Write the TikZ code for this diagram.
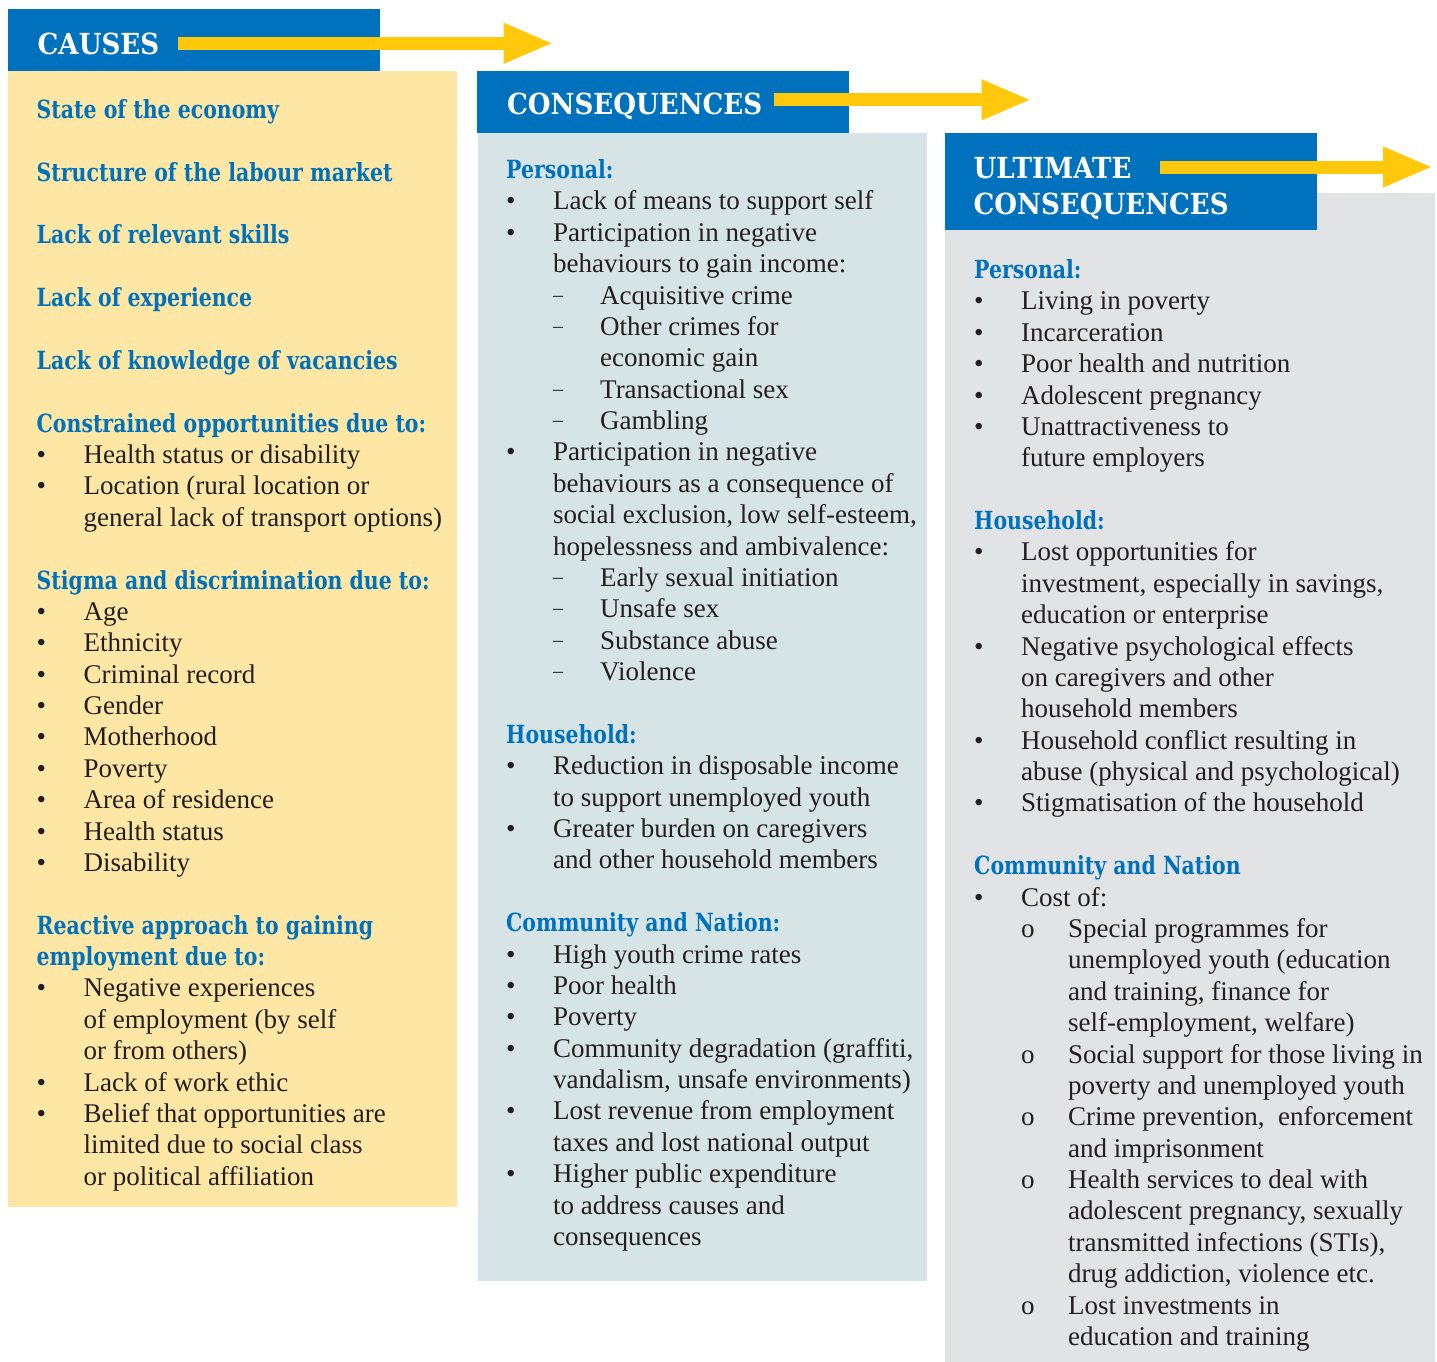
\documentclass[tikz,border=0pt]{standalone}
\usepackage{fontspec}
\usepackage{graphicx}
\usetikzlibrary{arrows.meta}
\setmainfont{Liberation Serif}
\newfontfamily\slabfont{DejaVu Serif}

\definecolor{hdblue}{RGB}{0,113,188}
\definecolor{subblue}{RGB}{0,114,188}
\definecolor{bodyink}{RGB}{35,31,32}
\definecolor{causefill}{RGB}{254,230,165}
\definecolor{conseqfill}{RGB}{215,228,230}
\definecolor{ultfill}{RGB}{226,227,229}
\definecolor{flowyellow}{RGB}{255,200,10}

% fonts
\newcommand\subfont{\slabfont\bfseries\fontsize{25}{31.38}\selectfont}
\newcommand\titfont{\slabfont\bfseries\fontsize{29}{36}\selectfont}
\newcommand\bodyfont{\fontsize{27}{31.38}\selectfont}
\newlength\sublen
\newlength\titlen

% heading widths are fitted to the slab face
\AtBeginDocument{%
  \settowidth{\sublen}{\subfont Constrained opportunities due to:}%
  \pgfmathsetmacro\subsx{389.5/\sublen}%
  \xdef\subsx{\subsx}%
  \settowidth{\titlen}{\titfont CONSEQUENCES}%
  \pgfmathsetmacro\titsx{255/\titlen}%
  \xdef\titsx{\titsx}}

% one line of a column, each on a fixed 31.38pt grid
\newcommand\Hd[1]{\scalebox{\subsx}[1]{\subfont\color{subblue}#1}\\}
\newcommand\Bu[1]{\makebox[47pt][l]{\textbullet}#1\\}
\newcommand\Co[1]{\hspace*{47pt}#1\\}
\newcommand\Da[1]{\hspace*{47pt}\makebox[47pt][l]{\raisebox{3pt}{\fontsize{20}{20}\selectfont –}}#1\\}
\newcommand\Dc[1]{\hspace*{94pt}#1\\}
\newcommand\Oi[1]{\hspace*{47pt}\makebox[47pt][l]{o}#1\\}
\newcommand\Gap{\mbox{}\\}

\begin{document}
\begin{tikzpicture}[x=1pt,y=-1pt,
  coltext/.style={inner sep=0pt, anchor=base west, font=\bodyfont, text=bodyink},
  titletext/.style={inner sep=0pt, anchor=base west, font=\titfont, text=white},
  flow/.style={draw=flowyellow, line width=13pt,
    -{Triangle[width=37pt,length=50pt]}}]

\useasboundingbox (0,0) rectangle (1437,1362);
\fill[white] (0,0) rectangle (1437,1362);

% column panels
\fill[causefill] (8,71) rectangle (457,1207);
\fill[conseqfill] (477.5,133) rectangle (927,1281);
\fill[ultfill] (945,193) rectangle (1435,1362);

% blue header bars
\fill[hdblue] (8,9) rectangle (380,71);
\fill[hdblue] (477,71) rectangle (849,133);
\fill[hdblue] (945,133) rectangle (1317,229.5);

\node[titletext] (tcauses) at (37.5,55) {\scalebox{\titsx}[1]{CAUSES}};
\node[titletext] (tconseq) at (507,115) {\scalebox{\titsx}[1]{CONSEQUENCES}};
\node[titletext] (tult) at (973.5,178.5) {\scalebox{\titsx}[1]{ULTIMATE}};
\node[titletext] (tultb) at (973.5,214) {\scalebox{\titsx}[1]{CONSEQUENCES}};

% yellow flow arrows
\coordinate (a1s) at (178,43.3);
\coordinate (a1e) at (553.6,43.3);
\coordinate (a2s) at (774,99.8);
\coordinate (a2e) at (1031.5,99.8);
\coordinate (a3s) at (1160,167);
\coordinate (a3e) at (1433,167);
\draw[flow] (a1s) -- (a1e);
\draw[flow] (a2s) -- (a2e);
\draw[flow] (a3s) -- (a3e);

% causes
\node[coltext] (causes) at (36.5,118.3) {\parbox[t]{420pt}{\bodyfont
\Hd{State of the economy}
\Gap
\Hd{Structure of the labour market}
\Gap
\Hd{Lack of relevant skills}
\Gap
\Hd{Lack of experience}
\Gap
\Hd{Lack of knowledge of vacancies}
\Gap
\Hd{Constrained opportunities due to:}
\Bu{Health status or disability}
\Bu{Location (rural location or}
\Co{general lack of transport options)}
\Gap
\Hd{Stigma and discrimination due to:}
\Bu{Age}
\Bu{Ethnicity}
\Bu{Criminal record}
\Bu{Gender}
\Bu{Motherhood}
\Bu{Poverty}
\Bu{Area of residence}
\Bu{Health status}
\Bu{Disability}
\Gap
\Hd{Reactive approach to gaining}
\Hd{employment due to:}
\Bu{Negative experiences}
\Co{of employment (by self}
\Co{or from others)}
\Bu{Lack of work ethic}
\Bu{Belief that opportunities are}
\Co{limited due to social class}
\Co{or political affiliation}}};

% consequences
\node[coltext] (conseq) at (506,178.5) {\parbox[t]{420pt}{\bodyfont
\Hd{Personal:}
\Bu{Lack of means to support self}
\Bu{Participation in negative}
\Co{behaviours to gain income:}
\Da{Acquisitive crime}
\Da{Other crimes for}
\Dc{economic gain}
\Da{Transactional sex}
\Da{Gambling}
\Bu{Participation in negative}
\Co{behaviours as a consequence of}
\Co{social exclusion, low self-esteem,}
\Co{hopelessness and ambivalence:}
\Da{Early sexual initiation}
\Da{Unsafe sex}
\Da{Substance abuse}
\Da{Violence}
\Gap
\Hd{Household:}
\Bu{Reduction in disposable income}
\Co{to support unemployed youth}
\Bu{Greater burden on caregivers}
\Co{and other household members}
\Gap
\Hd{Community and Nation:}
\Bu{High youth crime rates}
\Bu{Poor health}
\Bu{Poverty}
\Bu{Community degradation (graffiti,}
\Co{vandalism, unsafe environments)}
\Bu{Lost revenue from employment}
\Co{taxes and lost national output}
\Bu{Higher public expenditure}
\Co{to address causes and}
\Co{consequences}}};

% ultimate consequences
\node[coltext] (ultimate) at (974,278.5) {\parbox[t]{460pt}{\bodyfont
\Hd{Personal:}
\Bu{Living in poverty}
\Bu{Incarceration}
\Bu{Poor health and nutrition}
\Bu{Adolescent pregnancy}
\Bu{Unattractiveness to}
\Co{future employers}
\Gap
\Hd{Household:}
\Bu{Lost opportunities for}
\Co{investment, especially in savings,}
\Co{education or enterprise}
\Bu{Negative psychological effects}
\Co{on caregivers and other}
\Co{household members}
\Bu{Household conflict resulting in}
\Co{abuse (physical and psychological)}
\Bu{Stigmatisation of the household}
\Gap
\Hd{Community and Nation}
\Bu{Cost of:}
\Oi{Special programmes for}
\Dc{unemployed youth (education}
\Dc{and training, finance for}
\Dc{self-employment, welfare)}
\Oi{Social support for those living in}
\Dc{poverty and unemployed youth}
\Oi{Crime prevention,~ enforcement}
\Dc{and imprisonment}
\Oi{Health services to deal with}
\Dc{adolescent pregnancy, sexually}
\Dc{transmitted infections (STIs),}
\Dc{drug addiction, violence etc.}
\Oi{Lost investments in}
\Dc{education and training}}};
\end{tikzpicture}
\end{document}
